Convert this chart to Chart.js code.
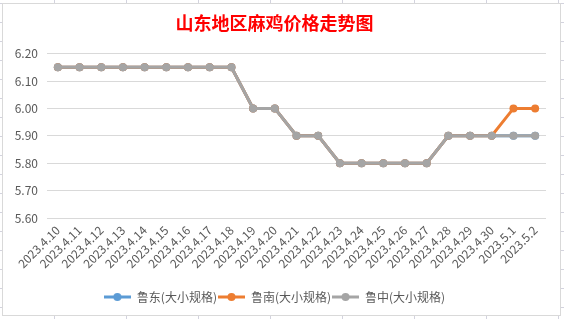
<!DOCTYPE html>
<html>
<head>
<meta charset="utf-8">
<script src="https://cdn.jsdelivr.net/npm/chart.js@4/dist/chart.umd.min.js"></script>
<style>
  html, body {
    margin: 0;
    width: 564px;
    height: 319px;
    overflow: hidden;
    background-color: #fff;
    background-image:
      repeating-linear-gradient(to bottom, transparent 0, transparent 3px, #d3d3de 3px, #d3d3de 4px, transparent 4px, transparent 19px),
      repeating-linear-gradient(to right, transparent 0, transparent 54px, #d3d3de 54px, #d3d3de 55px, transparent 55px, transparent 72px);
  }
  #box {
    position: absolute;
    left: 2px;
    top: 3px;
    width: 557px;
    height: 311px;
    border: 1px solid #d9d9d9;
    background: #fff;
  }
  canvas { display: block; }
</style>
</head>
<body>
<div id="box"><canvas id="chart" width="557" height="311"></canvas></div>
<script>
const TITLE = "山东地区麻鸡价格走势图";

const DATES = [
  "2023.4.10", "2023.4.11", "2023.4.12", "2023.4.13", "2023.4.14", "2023.4.15",
  "2023.4.16", "2023.4.17", "2023.4.18", "2023.4.19", "2023.4.20", "2023.4.21",
  "2023.4.22", "2023.4.23", "2023.4.24", "2023.4.25", "2023.4.26", "2023.4.27",
  "2023.4.28", "2023.4.29", "2023.4.30", "2023.5.1", "2023.5.2",
];

// 鲁东 is hidden under 鲁中 in the picture
const LUDONG = [
  6.15, 6.15, 6.15, 6.15, 6.15, 6.15, 6.15, 6.15, 6.15, 6.0, 6.0, 5.9,
  5.9, 5.8, 5.8, 5.8, 5.8, 5.8, 5.9, 5.9, 5.9, 5.9, 5.9,
];
const LUNAN = [
  6.15, 6.15, 6.15, 6.15, 6.15, 6.15, 6.15, 6.15, 6.15, 6.0, 6.0, 5.9,
  5.9, 5.8, 5.8, 5.8, 5.8, 5.8, 5.9, 5.9, 5.9, 6.0, 6.0,
];
const LUZHONG = [
  6.15, 6.15, 6.15, 6.15, 6.15, 6.15, 6.15, 6.15, 6.15, 6.0, 6.0, 5.9,
  5.9, 5.8, 5.8, 5.8, 5.8, 5.8, 5.9, 5.9, 5.9, 5.9, 5.9,
];

const SERIES_NAMES = ["鲁东(大小规格)", "鲁南(大小规格)", "鲁中(大小规格)"];
const COLORS = ["#5B9BD5", "#ED7D31", "#A5A5A5"];

const Y_MIN = 5.6;
const Y_MAX = 6.2;
const Y_STEP = 0.1;

const FONT = "'Noto Sans CJK SC', 'Noto Sans', sans-serif";
const TEXT_COLOR = "#595959";

// legend marker: short line with a dot in the middle
function legendMarker(color) {
  const c = document.createElement("canvas");
  c.width = 27;
  c.height = 10;
  const g = c.getContext("2d");
  g.strokeStyle = color;
  g.lineWidth = 3;
  g.beginPath();
  g.moveTo(0, 5);
  g.lineTo(27, 5);
  g.stroke();
  g.fillStyle = color;
  g.beginPath();
  g.arc(13.5, 5, 4, 0, Math.PI * 2);
  g.fill();
  return c;
}

function makeDataset(i, values, order) {
  return {
    label: SERIES_NAMES[i],
    data: values,
    borderColor: COLORS[i],
    backgroundColor: COLORS[i],
    pointBackgroundColor: COLORS[i],
    pointBorderColor: COLORS[i],
    pointRadius: 4,
    pointBorderWidth: 0,
    pointStyle: "circle",
    borderWidth: 3,
    tension: 0,
    order: order,
  };
}

const ctx = document.getElementById("chart").getContext("2d");

new Chart(ctx, {
  type: "line",
  data: {
    labels: DATES,
    datasets: [
      makeDataset(0, LUDONG, 2),
      makeDataset(1, LUNAN, 1),
      makeDataset(2, LUZHONG, 0),
    ],
  },
  options: {
    responsive: false,
    animation: false,
    layout: { padding: { left: 0, right: 14, top: 0, bottom: 2 } },
    plugins: {
      title: {
        display: true,
        text: TITLE,
        color: "#FF0000",
        font: { family: FONT, size: 18, weight: "bold" },
        padding: { top: 8, bottom: 20 },
      },
      legend: {
        position: "bottom",
        labels: {
          usePointStyle: true,
          pointStyleWidth: 27,
          padding: 1,
          color: TEXT_COLOR,
          font: { family: FONT, size: 12 },
          generateLabels: (chart) =>
            chart.data.datasets.map((ds, i) => ({
              text: ds.label,
              fontColor: TEXT_COLOR,
              pointStyle: legendMarker(COLORS[i]),
              datasetIndex: i,
              lineWidth: 0,
            })),
        },
      },
      tooltip: { enabled: false },
    },
    scales: {
      x: {
        offset: true,
        grid: { display: false, drawTicks: false },
        border: { display: false },
        ticks: {
          autoSkip: false,
          minRotation: 45,
          maxRotation: 45,
          padding: 5,
          color: TEXT_COLOR,
          font: { family: FONT, size: 12 },
        },
        afterFit: (scale) => {
          scale.height = 72;
        },
      },
      y: {
        min: Y_MIN,
        max: Y_MAX,
        grid: { color: "#d9d9d9", drawTicks: false },
        border: { display: false },
        ticks: {
          stepSize: Y_STEP,
          padding: 9,
          color: TEXT_COLOR,
          font: { family: FONT, size: 12 },
          callback: (v) => v.toFixed(2),
        },
        afterFit: (scale) => {
          scale.width = 44;
        },
      },
    },
  },
});
</script>
</body>
</html>
